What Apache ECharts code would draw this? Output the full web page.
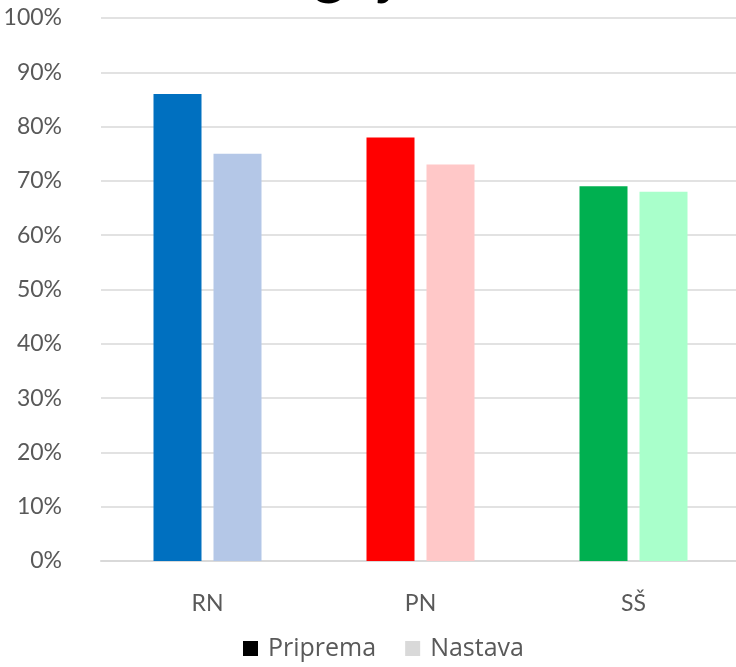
<!DOCTYPE html>
<html>
<head>
<meta charset="utf-8">
<script src="https://cdn.jsdelivr.net/npm/echarts@6/dist/echarts.min.js"></script>
<style>
  html, body { margin: 0; padding: 0; background: #fff; overflow: hidden; }
  #chart { width: 740px; height: 667px; }
</style>
</head>
<body>
<div id="chart"></div>
<script>
// Share (%) per school level
const categories = ['RN', 'PN', 'SŠ'];
const priprema = [86, 78, 69];
const nastava = [75, 73, 68];
const yTicks = [0, 10, 20, 30, 40, 50, 60, 70, 80, 90, 100];
const titleText = 'Odgoj';

// Per-category colours: dark shade for Priprema, light shade for Nastava
const pripremaColors = ['#0070C0', '#FF0000', '#00B050'];
const nastavaColors = ['#B4C7E7', '#FFC8C8', '#A9FFCB'];

const font = 'Lato, "Open Sans", sans-serif';
const legendFont = '"Open Sans", Lato, sans-serif';

const chart = echarts.init(document.getElementById('chart'), null, { renderer: 'canvas' });
chart.setOption({
  animation: false,
  backgroundColor: '#ffffff',
  graphic: [{
    type: 'text',
    left: 229,
    top: -59,
    style: {
      text: titleText,
      font: 'normal 62px ' + font,
      fill: '#000000'
    }
  }],
  grid: { left: 101, top: 18, right: 0, bottom: 106, containLabel: false },
  legend: {
    top: 636,
    left: 243,
    padding: 0,
    itemWidth: 15,
    itemHeight: 15,
    itemGap: 29,
    icon: 'rect',
    textStyle: { fontFamily: legendFont, fontSize: 25, color: '#595959', padding: [0, 0, 0, 5] },
    data: ['Priprema', 'Nastava']
  },
  xAxis: {
    type: 'category',
    data: categories,
    axisTick: { show: false },
    axisLine: { lineStyle: { color: '#D9D9D9', width: 2 } },
    axisLabel: { fontFamily: font, fontSize: 23, color: '#595959', margin: 31 }
  },
  yAxis: {
    type: 'value',
    min: yTicks[0],
    max: yTicks[yTicks.length - 1],
    interval: 10,
    axisLine: { show: false },
    axisTick: { show: false },
    splitLine: { lineStyle: { color: '#D9D9D9', width: 1.5 } },
    axisLabel: {
      fontFamily: font, fontSize: 23, color: '#595959', margin: 39,
      formatter: v => v + '%'
    }
  },
  series: [
    {
      name: 'Priprema',
      type: 'bar',
      barWidth: 48,
      barGap: '25%',
      itemStyle: { color: '#000000' },
      data: priprema.map((v, i) => ({ value: v, itemStyle: { color: pripremaColors[i] } }))
    },
    {
      name: 'Nastava',
      type: 'bar',
      barWidth: 48,
      barGap: '25%',
      itemStyle: { color: '#D9D9D9' },
      data: nastava.map((v, i) => ({ value: v, itemStyle: { color: nastavaColors[i] } }))
    }
  ]
});
</script>
</body>
</html>
